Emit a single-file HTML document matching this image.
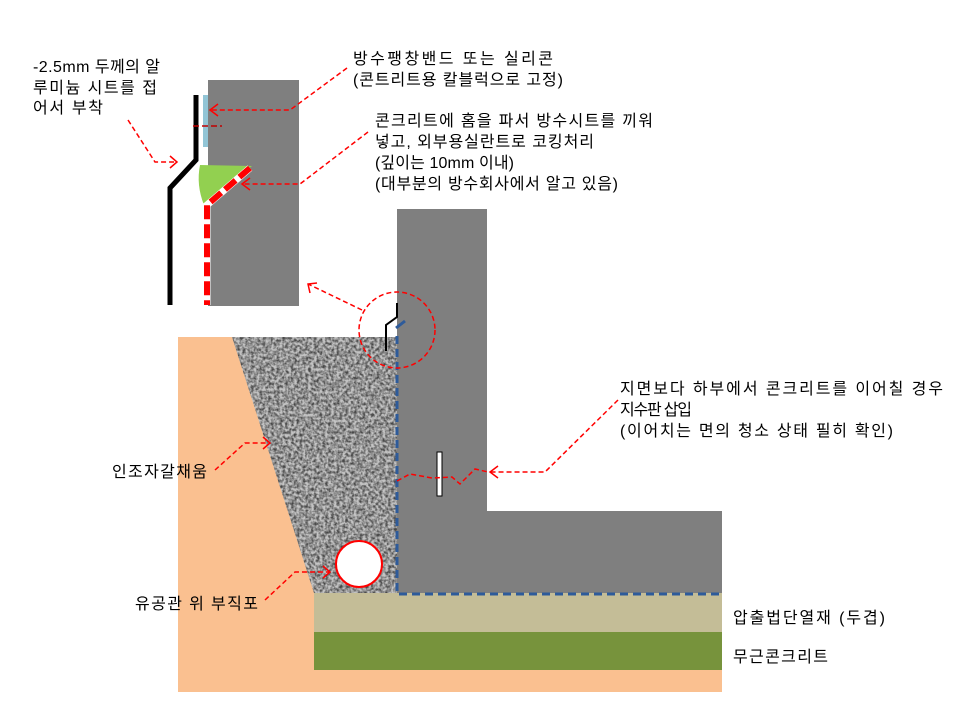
<!DOCTYPE html>
<html><head><meta charset="utf-8"><style>
html,body{margin:0;padding:0;background:#fff;}
svg{display:block;}
text{font-family:"Liberation Sans","Noto Sans CJK KR",sans-serif;font-size:16px;fill:#000;}
</style></head><body>
<svg width="960" height="720" viewBox="0 0 960 720" xmlns="http://www.w3.org/2000/svg">
<defs>
<filter id="noise" x="0" y="0" width="100%" height="100%">
<feTurbulence type="fractalNoise" baseFrequency="0.35" numOctaves="2" seed="3" result="t"/>
<feColorMatrix type="matrix" values="0 0 0 0 0  0 0 0 0 0  0 0 0 0 0  2.2 0 0 0 -0.7" in="t" result="a"/>
<feComposite in="SourceGraphic" in2="a" operator="in"/>
</filter>
<clipPath id="gc"><polygon points="232,337 397,337 397,593 314,593"/></clipPath>
</defs>
<rect x="178" y="337" width="219" height="355" fill="#fac090"/>
<rect x="178" y="592" width="544" height="100" fill="#fac090"/>
<polygon points="232,337 397,337 397,593 314,593" fill="#c4c4c4"/>
<g clip-path="url(#gc)"><rect x="230" y="335" width="170" height="260" fill="#333" filter="url(#noise)" opacity="0.85"/></g>
<rect x="314" y="593" width="408" height="39" fill="#c4bd97"/>
<rect x="314" y="632" width="408" height="38" fill="#77933c"/>
<rect x="397" y="209" width="90" height="384" fill="#7f7f7f"/>
<rect x="397" y="511" width="325" height="82" fill="#7f7f7f"/>
<rect x="208" y="80" width="91" height="226" fill="#7f7f7f"/>
<polyline points="397,336 397,594 722,594" fill="none" stroke="#2e5b9a" stroke-width="3" stroke-dasharray="8,5"/>
<line x1="396" y1="328" x2="405" y2="321" stroke="#2e5b9a" stroke-width="3"/>
<polyline points="386,351 386,325 397,317 397,303" fill="none" stroke="#000" stroke-width="2"/>
<circle cx="397" cy="330" r="38" fill="none" stroke="#f00" stroke-width="1.5" stroke-dasharray="5,3"/>
<circle cx="359" cy="564" r="23" fill="#fff" stroke="#f00" stroke-width="2"/>
<rect x="437" y="452" width="5" height="44" fill="#fff" stroke="#000" stroke-width="1"/>
<rect x="203" y="95" width="5" height="52" fill="#92c5d6"/>
<polyline points="196,95 196,160 170,188 170,305" fill="none" stroke="#000" stroke-width="5"/>
<line x1="193" y1="126" x2="222" y2="126" stroke="#c00000" stroke-width="1.5" stroke-dasharray="6,3"/>
<path d="M200,165 L252,166 L204,205 Q196,185 200,165 Z" fill="#92d050"/>
<polyline points="250,168 207,205 207,305" fill="none" stroke="#fff" stroke-width="7"/>
<polyline points="250,168 207,205 207,305" fill="none" stroke="#f00" stroke-width="6" stroke-dasharray="14,5"/>
<g fill="none" stroke="#f00" stroke-width="1.5" stroke-dasharray="5,3">
<polyline points="347,68 290,110 210,110"/>
<polyline points="128,120 155,162 177,162"/>
<polyline points="368,132 300,184 242,184"/>
<polyline points="362,310 308,284"/>
<polyline points="618,400 545,472 490,472"/>
<polyline points="397,481 410,474 432,478 452,477 460,484 475,469 488,472"/>
<polyline points="215,470 245,443 270,443"/>
<polyline points="265,600 295,572 330,572"/>
</g>
<g fill="none" stroke="#f00" stroke-width="1.5">
<polyline points="218,104 210,110 218,116"/>
<polyline points="170,156 177,162 170,168"/>
<polyline points="250,178 242,184 250,190"/>
<polyline points="310,293 308,284 317,283"/>
<polyline points="498,466 490,472 498,478"/>
<polyline points="263,437 270,443 263,449"/>
<polyline points="323,566 330,572 323,578"/>
</g>
<text x="33" y="72" textLength="127" lengthAdjust="spacing">-2.5mm 두께의 알</text>
<text x="33" y="93" textLength="124" lengthAdjust="spacing">루미늄 시트를 접</text>
<text x="33" y="113" textLength="70" lengthAdjust="spacing">어서 부착</text>
<text x="353" y="64" textLength="200" lengthAdjust="spacing">방수팽창밴드 또는 실리콘</text>
<text x="353" y="85" textLength="210" lengthAdjust="spacing">(콘트리트용 칼블럭으로 고정)</text>
<text x="375" y="126" textLength="278" lengthAdjust="spacing">콘크리트에 홈을 파서 방수시트를 끼워</text>
<text x="375" y="147" textLength="219" lengthAdjust="spacing">넣고, 외부용실란트로 코킹처리</text>
<text x="375" y="168" textLength="139" lengthAdjust="spacing">(깊이는 10mm 이내)</text>
<text x="375" y="189" textLength="243" lengthAdjust="spacing">(대부분의 방수회사에서 알고 있음)</text>
<text x="620" y="394" textLength="323" lengthAdjust="spacing">지면보다 하부에서 콘크리트를 이어칠 경우</text>
<text x="620" y="415" textLength="72" lengthAdjust="spacing">지수판 삽입</text>
<text x="620" y="436" textLength="273" lengthAdjust="spacing">(이어치는 면의 청소 상태 필히 확인)</text>
<text x="112" y="477" textLength="95" lengthAdjust="spacing">인조자갈채움</text>
<text x="135" y="609" textLength="123" lengthAdjust="spacing">유공관 위 부직포</text>
<text x="733" y="623" textLength="152" lengthAdjust="spacing">압출법단열재 (두겹)</text>
<text x="733" y="662" textLength="95" lengthAdjust="spacing">무근콘크리트</text>
</svg>
</body></html>
